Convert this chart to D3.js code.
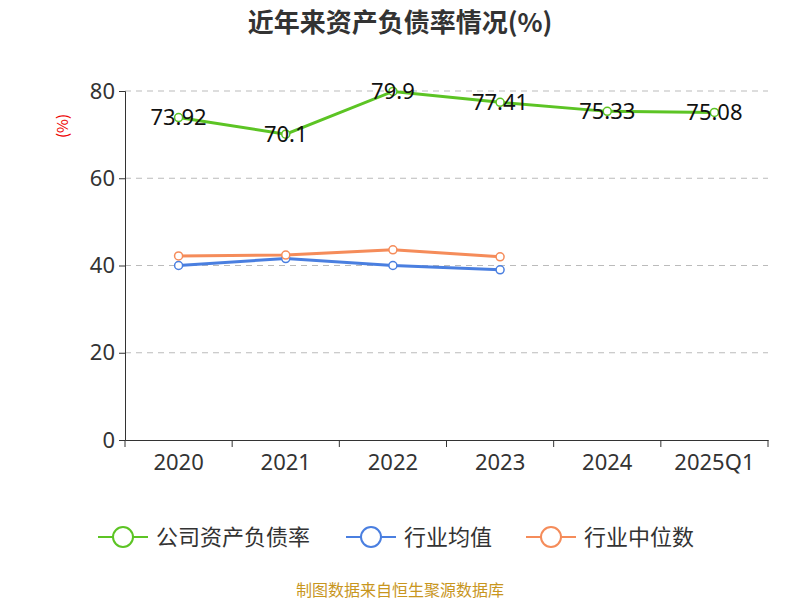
<!DOCTYPE html>
<html><head><meta charset="utf-8">
<script src="https://cdn.jsdelivr.net/npm/d3@7"></script>
<style>body{margin:0;background:#fff;font-family:"Noto Sans CJK SC","Noto Sans",sans-serif}</style>
</head><body><svg id="c" width="800" height="600"></svg>
<script>
const categories=["2020","2021","2022","2023","2024","2025Q1"];
const company=[73.92,70.1,79.9,77.41,75.33,75.08];
const industryAvg=[40.0,41.6,40.0,39.0];
const industryMedian=[42.2,42.4,43.6,42.0];
const yTicks=[0,20,40,60,80];
const svg=d3.select("#c");
const m={l:125,r:768,t:91,b:440};
const x=d3.scaleBand().domain(categories).range([m.l,m.r]);
const y=d3.scaleLinear().domain([0,80]).range([m.b,m.t]);
const cx=d=>x(d)+x.bandwidth()/2;
svg.append("text").attr("x",400).attr("y",32).attr("text-anchor","middle").attr("font-size",26).attr("font-weight","bold").attr("fill","#333").text("近年来资产负债率情况(%)");
yTicks.forEach(t=>{if(t>0)svg.append("line").attr("x1",m.l).attr("x2",m.r).attr("y1",y(t)).attr("y2",y(t)).attr("stroke","#bbb").attr("stroke-dasharray","6,5");});
const ya=svg.append("g").attr("transform",`translate(${m.l},0)`).call(d3.axisLeft(y).tickValues(yTicks).tickSize(6).tickPadding(4));
ya.selectAll("text").attr("font-size",22).attr("fill","#333").attr("font-family","Noto Sans");
ya.selectAll("line,path").attr("stroke","#333");
const xa=svg.append("g").attr("transform",`translate(0,${m.b})`).call(d3.axisBottom(x).tickSize(0).tickPadding(14));
xa.selectAll("text").attr("font-size",22).attr("fill","#333").attr("font-family","Noto Sans");
xa.select("path").attr("stroke","#333");
categories.concat([null]).forEach((c,i)=>{const xx=i<categories.length?x(c):m.r;svg.append("line").attr("x1",xx).attr("x2",xx).attr("y1",m.b).attr("y2",m.b+7).attr("stroke","#333");});
svg.append("text").attr("transform","translate(68,126) rotate(-90)").attr("text-anchor","middle").attr("font-size",15).attr("fill","#e00").text("(%)");
function series(vals,color){
  const line=d3.line().x((d,i)=>cx(categories[i])).y(d=>y(d));
  svg.append("path").attr("d",line(vals)).attr("fill","none").attr("stroke",color).attr("stroke-width",3);
  vals.forEach((v,i)=>svg.append("circle").attr("cx",cx(categories[i])).attr("cy",y(v)).attr("r",4).attr("fill","#fff").attr("stroke",color).attr("stroke-width",1.5));
}
series(industryAvg,"#4a7fe0");
series(industryMedian,"#f58c5a");
series(company,"#5cc424");
company.forEach((v,i)=>svg.append("text").attr("x",cx(categories[i])).attr("y",y(v)).attr("dy","0.35em").attr("text-anchor","middle").attr("font-size",22).attr("fill","#111").attr("font-family","Noto Sans").text(v));
const leg=[["公司资产负债率","#5cc424",98],["行业均值","#4a7fe0",346],["行业中位数","#f58c5a",526]];
leg.forEach(([t,c,lx])=>{
  svg.append("line").attr("x1",lx).attr("x2",lx+50).attr("y1",537).attr("y2",537).attr("stroke",c).attr("stroke-width",2);
  svg.append("circle").attr("cx",lx+25).attr("cy",537).attr("r",10).attr("fill","#fff").attr("stroke",c).attr("stroke-width",2);
  svg.append("text").attr("x",lx+58).attr("y",537).attr("dy","0.35em").attr("font-size",22).attr("fill","#333").text(t);
});
svg.append("text").attr("x",400).attr("y",596).attr("text-anchor","middle").attr("font-size",16).attr("fill","#c8961e").text("制图数据来自恒生聚源数据库");
</script></body></html>
